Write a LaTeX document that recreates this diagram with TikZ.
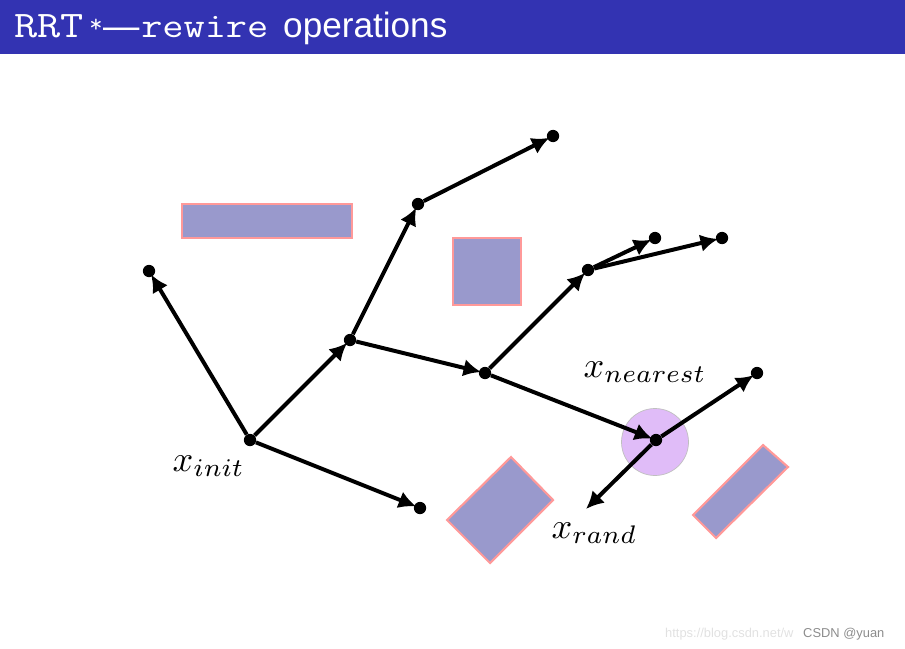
\documentclass[tikz,border=0pt]{standalone}
\usepackage{fontspec}
\newfontfamily\titlesans{Liberation Sans}
\usetikzlibrary{arrows.meta}
\definecolor{barblue}{RGB}{51,51,178}
\definecolor{obsfill}{RGB}{153,153,204}
\definecolor{obsline}{RGB}{255,153,153}
\definecolor{nearfill}{RGB}{224,188,248}
\definecolor{wmlight}{RGB}{225,225,225}
\definecolor{wmdark}{RGB}{140,140,140}
\tikzset{
  pt/.style={circle,fill=black,inner sep=0pt,minimum size=10.5pt},
  arr/.style={line width=3.4pt,shorten >=-2pt,-{Latex[length=15pt,width=15pt]}},
  obs/.style={fill=obsfill,draw=obsline,line width=1.8pt},
  lab/.style={inner sep=0pt,anchor=base west,scale=3.1},
  ttl/.style={inner sep=0pt,anchor=base west,text=white},
}
\begin{document}
\begin{tikzpicture}[x=0.03cm,y=-0.03cm]
\useasboundingbox (0,0) rectangle (905,648);
% title bar
\fill[barblue] (0,0) rectangle (905,54);
\node[ttl,xscale=1.2,font=\ttfamily\fontsize{32}{36}\selectfont] (t1) at (14,38) {RRT};
\node[inner sep=0pt,text=white,font=\ttfamily\fontsize{22}{24}\selectfont] (t2) at (96,26) {*};
\node[ttl,font=\titlesans\fontsize{31}{36}\selectfont] (t3) at (103,39) {—};
\node[ttl,xscale=1.17,font=\ttfamily\fontsize{30}{34}\selectfont] (t4) at (141,38) {rewire};
\node[ttl,font=\titlesans\fontsize{30}{34}\selectfont] (t5) at (283,38) {operations};
% obstacles
\draw[obs] (182,204) rectangle (352,238);
\draw[obs] (453,238) rectangle (521,305);
\draw[obs] (511,457) -- (553,500) -- (490,563) -- (447,520) -- cycle;
\draw[obs] (763,445) -- (788,467) -- (716,538) -- (693,515) -- cycle;
% near circle
\fill[nearfill,draw=black!25,line width=0.6pt] (655,442) circle (33.5);
% tree nodes
\node[pt] (init) at (250,440) {};
\node[pt] (a) at (149,271) {};
\node[pt] (b) at (350,340) {};
\node[pt] (c) at (420,508) {};
\node[pt] (d) at (418,204) {};
\node[pt] (e) at (553,136) {};
\node[pt] (f) at (485,373) {};
\node[pt] (g) at (588,270) {};
\node[pt] (h) at (655,238) {};
\node[pt] (i) at (722,238) {};
\node[pt] (near) at (656,440) {};
\node[pt] (j) at (757,373) {};
\coordinate (rand) at (586,509);
% edges
\draw[arr] (init) -- (a);
\draw[arr] (init) -- (b);
\draw[arr] (init) -- (c);
\draw[arr] (b) -- (d);
\draw[arr] (d) -- (e);
\draw[arr] (b) -- (f);
\draw[arr] (f) -- (g);
\draw[arr] (g) -- (h);
\draw[arr] (g) -- (i);
\draw[arr] (f) -- (near);
\draw[arr] (near) -- (j);
\draw[arr,shorten >=0pt] (near) -- (rand);
% labels
\node[lab] (linit) at (172,471) {$x_{init}$};
\node[lab] (lnear) at (583,377) {$x_{nearest}$};
\node[lab] (lrand) at (551,538) {$x_{rand}$};
% watermark
\node[inner sep=0pt,anchor=base west,text=wmlight,font=\titlesans\fontsize{11}{13}\selectfont] (wm1) at (665,637) {https://blog.csdn.net/w};
\node[inner sep=0pt,anchor=base west,text=wmdark,font=\titlesans\fontsize{11}{13}\selectfont] (wm2) at (803,637) {CSDN @yuan};
\end{tikzpicture}
\end{document}
